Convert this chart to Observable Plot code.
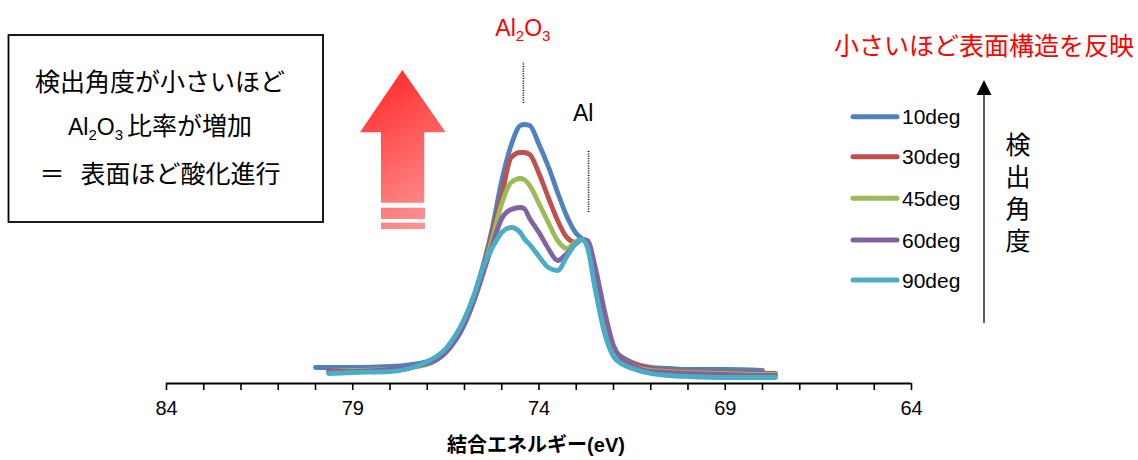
<!DOCTYPE html>
<html><head><meta charset="utf-8">
<script src="https://cdn.jsdelivr.net/npm/d3@7"></script>
<script src="https://cdn.jsdelivr.net/npm/@observablehq/plot@0.6"></script>
<style>
html,body{margin:0;padding:0;background:#fff;}
#chart{width:1138px;height:460px;position:relative;overflow:hidden;}
</style></head><body><div id="chart"></div>
<script>
// Binding energy grid (eV)
const energies = [80.0, 79.65, 79.0, 78.0, 77.0, 76.5, 76.0, 75.75, 75.5, 75.25, 75.0, 74.75, 74.5, 74.4, 74.25, 74.0, 73.75, 73.5, 73.25, 73.0, 72.85, 72.7, 72.5, 72.25, 72.0, 71.75, 71.5, 71.0, 70.5, 70.0, 69.0, 68.0, 67.65];
// Intensities (arbitrary units) per detection angle
const deg10 = [16, 16, 16, 17, 22, 34, 63, 87, 118, 156, 203, 238, 258, 259, 258, 239, 217, 191, 167, 150, 145, 139, 102, 58, 33, 26, 21, 16, 15, 14, 14, 13, null];
const deg30 = [null, 13, 13, 14, 20, 32, 61, 84, 114, 151, 188, 226, 231, 231, 229, 210, 186, 163, 146, 141, 144, 141, 108, 63, 35, 25, 20, 15, 13, 12, 11, 10, 10];
const deg45 = [null, 12, 13, 14, 19, 32, 62, 85, 113, 145, 180, 201, 205, 204, 198, 180, 161, 143, 135, 142, 144, 142, 112, 66, 34, 24, 18, 13, 12, 11, 10, 9, 9];
const deg60 = [null, 12, 12, 14, 20, 31, 59, 82, 110, 139, 165, 174, 176, 175, 165, 151, 135, 123, 130, 140, 144, 143, 118, 74, 38, 24, 18, 12, 11, 10, 9, 8, 8];
const deg90 = [null, 10, 11, 12, 22, 35, 65, 88, 116, 136, 151, 156, 151, 145, 139, 127, 116, 113, 127, 141, 144, 136, 96, 52, 27, 19, 15, 10, 8, 7, 6, 6, 6];

const series = ["10deg", "30deg", "45deg", "60deg", "90deg"];
const seriesValues = [deg10, deg30, deg45, deg60, deg90];
const colors = ["#4F81BD", "#C0504D", "#9BBB59", "#8064A2", "#4BACC6"];

const tickValues = d3.range(64, 85, 1);
const tickLabels = [84, 79, 74, 69, 64];
const xLabel = "結合エネルギー(eV)";

const peakNames = ["Al2O3", "Al"];
const peakEnergies = [74.42, 72.67];

const boxLines = ["検出角度が小さいほど", "比率が増加", "表面ほど酸化進行"];
const rightTitle = "小さいほど表面構造を反映";
const angleLabel = ["検", "出", "角", "度"];

const rows = [];
series.forEach((s, k) => seriesValues[k].forEach((v, i) => {
  if (v != null) rows.push({ev: energies[i], v, s});
}));

const plot = Plot.plot({
  width: 1138, height: 460,
  marginLeft: 166, marginRight: 227, marginTop: 0, marginBottom: 77,
  x: {domain: [84, 64]},
  y: {domain: [0, 383], axis: null},
  color: {domain: series, range: colors},
  style: {fontFamily: "Liberation Sans, Arial, sans-serif", color: "#000", background: "#fff", overflow: "visible"},
  marks: [
    Plot.ruleY([0], {strokeWidth: 2, stroke: "#000"}),
    Plot.axisX({ticks: tickValues, tickSize: 7, tickPadding: 10, fontSize: 20, strokeWidth: 1.6,
      tickFormat: d => tickLabels.includes(d) ? String(d) : "", label: null}),
    Plot.ruleX(peakEnergies, {x: d => d, y1: [280, 171], y2: [321, 233], stroke: "#000", strokeWidth: 1.6, strokeDasharray: "1,1.4"}),
    Plot.line(rows, {x: "ev", y: "v", z: "s", stroke: "s", strokeWidth: 4.8, curve: "monotone-x", strokeLinejoin: "round", strokeLinecap: "round"})
  ]
});
document.getElementById("chart").appendChild(plot);

const svg = d3.select(plot);
// enforce tick label size
svg.selectAll("g[aria-label='x-axis tick label']").attr("font-size", 20);
svg.selectAll("g[aria-label='x-axis tick label'] text").attr("font-size", 20);

const xs = plot.scale("x");
const CJK = "Liberation Sans, 'Noto Sans CJK JP', sans-serif";
const add = (tag) => svg.append(tag);

// x-axis title
add("text").attr("x", 536).attr("y", 445).attr("text-anchor", "middle").attr("dominant-baseline", "central")
  .attr("font-family", CJK).attr("font-weight", "bold").attr("font-size", 20).attr("fill", "#000").text(xLabel);

// peak labels
const p1 = add("text").attr("x", xs.apply(peakEnergies[0])).attr("y", 36).attr("text-anchor", "middle")
  .attr("font-family", "Liberation Sans, Arial").attr("font-size", 23).attr("fill", "#FF0000");
p1.append("tspan").text("Al");
p1.append("tspan").attr("font-size", 15).attr("dy", 5).text("2");
p1.append("tspan").attr("dy", -5).text("O");
p1.append("tspan").attr("font-size", 15).attr("dy", 5).text("3");
add("text").attr("x", xs.apply(72.8)).attr("y", 121).attr("text-anchor", "middle")
  .attr("font-family", "Liberation Sans, Arial").attr("font-size", 23).attr("fill", "#000").text(peakNames[1]);

// Left box
add("rect").attr("x", 8.5).attr("y", 35).attr("width", 314.5).attr("height", 187)
  .attr("fill", "none").attr("stroke", "#000").attr("stroke-width", 1.8);
add("text").attr("x", 160).attr("y", 82).attr("text-anchor", "middle").attr("dominant-baseline", "central")
  .attr("font-family", CJK).attr("font-size", 25).text(boxLines[0]);
const l2 = add("text").attr("x", 160).attr("y", 135).attr("text-anchor", "middle")
  .attr("font-family", CJK).attr("font-size", 25);
l2.append("tspan").attr("font-size", 23).text("Al");
l2.append("tspan").attr("font-size", 15).attr("dy", 5).text("2");
l2.append("tspan").attr("font-size", 23).attr("dy", -5).text("O");
l2.append("tspan").attr("font-size", 15).attr("dy", 5).text("3");
l2.append("tspan").attr("dy", -5).attr("dx", 4).text(boxLines[1]);
const l3 = add("text").attr("x", 160).attr("y", 174).attr("text-anchor", "middle").attr("dominant-baseline", "central")
  .attr("font-family", CJK).attr("font-size", 25);
l3.append("tspan").text("＝");
l3.append("tspan").attr("dx", 16).text(boxLines[2]);

// Big red gradient arrow
const defs = add("defs");
const grad = defs.append("linearGradient").attr("id", "redgrad").attr("gradientUnits", "userSpaceOnUse")
  .attr("x1", 360).attr("y1", 90).attr("x2", 446).attr("y2", 230);
grad.append("stop").attr("offset", "0").attr("stop-color", "#FF2E2E");
grad.append("stop").attr("offset", "1").attr("stop-color", "#FF9E9E");
add("polygon")
  .attr("points", "402.3,70 445.7,132.3 424.3,132.3 424.3,202.7 381,202.7 381,132.3 360,132.3")
  .attr("fill", "url(#redgrad)");
add("rect").attr("x", 381).attr("y", 207.7).attr("width", 44).attr("height", 11.3).attr("fill", "url(#redgrad)");
add("rect").attr("x", 381).attr("y", 222.7).attr("width", 44).attr("height", 6.3).attr("fill", "url(#redgrad)");

// Right red title
add("text").attr("x", 984).attr("y", 46).attr("text-anchor", "middle").attr("dominant-baseline", "central")
  .attr("font-family", CJK).attr("font-size", 25).attr("fill", "#FF0000").text(rightTitle);

// Legend
const legendY = [116.7, 156.7, 198.3, 240, 280];
series.forEach((s, k) => {
  add("line").attr("x1", 853).attr("x2", 897).attr("y1", legendY[k]).attr("y2", legendY[k])
    .attr("stroke", colors[k]).attr("stroke-width", 5).attr("stroke-linecap", "round");
  add("text").attr("x", 902).attr("y", legendY[k]).attr("text-anchor", "start").attr("dominant-baseline", "central")
    .attr("font-family", "Liberation Sans, Arial").attr("font-size", 21).attr("fill", "#000").text(s);
});

// Vertical arrow
add("line").attr("x1", 984).attr("x2", 984).attr("y1", 93).attr("y2", 323).attr("stroke", "#000").attr("stroke-width", 1.3);
add("polygon").attr("points", "984,80 976.5,95 991.5,95").attr("fill", "#000");
const vy = [145, 177, 209, 241];
angleLabel.forEach((c, i) => {
  add("text").attr("x", 1018).attr("y", vy[i]).attr("text-anchor", "middle").attr("dominant-baseline", "central")
    .attr("font-family", CJK).attr("font-size", 25).attr("fill", "#000").text(c);
});
</script>
</body></html>
